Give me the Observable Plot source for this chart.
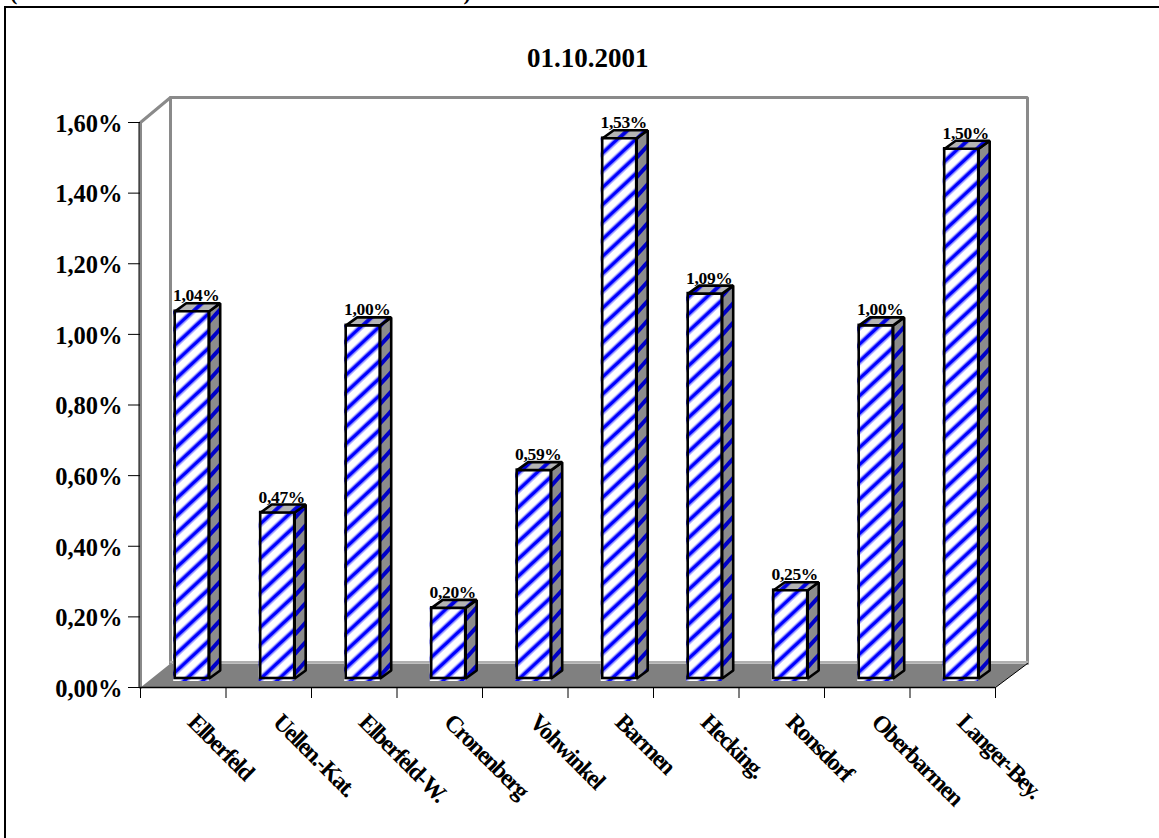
<!DOCTYPE html>
<html><head><meta charset="utf-8">
<script src="https://cdn.jsdelivr.net/npm/d3@7"></script>
<script src="https://cdn.jsdelivr.net/npm/@observablehq/plot@0.6"></script>
<style>
html,body{margin:0;padding:0;background:#fff;width:1159px;height:838px;overflow:hidden}
#cut{position:absolute;left:10px;top:-20px;white-space:nowrap;font:bold 22px "Liberation Serif",serif;letter-spacing:2px;color:#000}
#box{position:absolute;left:4px;top:5.5px;right:-5px;bottom:-5px;border:solid #000;border-width:2px 0 0 2px}
#chart{position:absolute;left:0;top:0}
svg{font-family:"Liberation Serif",serif}
.xlab{letter-spacing:-1.6px}
.vlab{letter-spacing:-.3px}
</style></head><body>
<div id="cut">(Basis laufende Fehlerstufe einer Klasse)</div>
<div id="box"></div>
<div id="chart"></div>
<script>
const categories=["Elberfeld","Uellen.-Kat.","Elberfeld-W.","Cronenberg","Vohwinkel","Barmen","Hecking.","Ronsdorf","Oberbarmen","Langer-Bey."];
const values=[1.04,0.47,1.00,0.20,0.59,1.53,1.09,0.25,1.00,1.50];
const yTicks=[0,0.2,0.4,0.6,0.8,1.0,1.2,1.4,1.6];
const title="01.10.2001";

const fmt=v=>v.toFixed(2).replace(".",",")+"%";
const W=1159,H=838,L=140,R=995,T=122,B=687;
const ux=(R-L)/10, uy=(B-T)/1.6;           // pixels per data unit
const px=p=>p/ux, py=p=>p/uy;              // pixel offsets expressed in data units
const base=py(9), x0=px(34.7), x1=px(68.7), dX=px(11), dY=py(8);

const rows=values.map((v,i)=>({i,v,name:categories[i]}));
const poly=(id,pts)=>pts.map(([x,y])=>({id,x,y}));
const sides=rows.flatMap(d=>poly(d.i,[
  [d.i+x1,base],[d.i+x1+dX,base+dY],[d.i+x1+dX,d.v+base+dY],[d.i+x1,d.v+base]]));
const tops=rows.flatMap(d=>poly(d.i,[
  [d.i+x0,d.v+base],[d.i+x1,d.v+base],[d.i+x1+dX,d.v+base+dY],[d.i+x0+dX,d.v+base+dY]]));

const backY=py(24), wallX=px(30), wallX2=10+px(32), topY=1.6+py(25);
const floor=poly(0,[[0,0],[wallX,backY],[wallX2,backY],[10,0]]);
const wall=poly(0,[[0,0],[0,1.6],[wallX,topY],[wallX2,topY],[wallX2,backY]]);
const wallInner=poly(0,[[wallX,topY],[wallX,backY]]);
const floorBack=poly(0,[[wallX,backY+py(1.5)],[wallX2,backY+py(1.5)]]);
const floorEdge=poly(0,[[10,0],[wallX2,backY]]);

const defs=()=>{
  const g=d3.create("svg:defs");
  g.html(`
  <pattern id="front" patternUnits="userSpaceOnUse" width="12.6" height="12.6" patternTransform="rotate(-43)">
    <rect width="12.6" height="12.6" fill="#fff"/><rect y="3.6" width="12.6" height="1" fill="#8080ff"/><rect y="4.6" width="12.6" height="3.6" fill="#0000ff"/><rect y="8.2" width="12.6" height="1" fill="#8080ff"/></pattern>
  <pattern id="side" patternUnits="userSpaceOnUse" width="13" height="13" patternTransform="rotate(-48)">
    <rect width="13" height="13" fill="#8c8c8c"/><rect y="4" width="13" height="4" fill="#0000c8"/></pattern>
  <pattern id="top" patternUnits="userSpaceOnUse" width="12.6" height="12.6" patternTransform="rotate(-43)">
    <rect width="12.6" height="12.6" fill="#b4b4b4"/><rect y="4" width="12.6" height="4" fill="#0000e0"/></pattern>`);
  return g.node();
};

const chart=Plot.plot({
  width:W,height:H,marginLeft:L,marginRight:W-R,marginTop:T,marginBottom:H-B,
  style:{background:"transparent",fontFamily:'"Liberation Serif",serif',overflow:"visible"},
  x:{domain:[0,10]},y:{domain:[0,1.6]},
  marks:[
    defs,
    Plot.line(floor,{x:"x",y:"y",z:"id",fill:"#808080",stroke:"none",curve:"linear-closed"}),
    Plot.line(wall,{x:"x",y:"y",z:"id",stroke:"#8a8a8a",strokeWidth:3,strokeLinejoin:"miter"}),
    Plot.line(wallInner,{x:"x",y:"y",z:"id",stroke:"#8a8a8a",strokeWidth:3}),
    Plot.line(floorBack,{x:"x",y:"y",z:"id",stroke:"#b0b0b0",strokeWidth:2}),
    Plot.line(floorEdge,{x:"x",y:"y",z:"id",stroke:"#000",strokeWidth:1}),
    Plot.axisY({ticks:yTicks,tickFormat:()=>"",tickSize:12,label:null,stroke:"#000"}),
    Plot.axisY({ticks:yTicks,tickFormat:fmt,tickSize:0,tickPadding:18,dy:1.5,fontSize:24.5,fontWeight:"bold",label:null,fill:"#000"}),
    Plot.ruleY([0],{stroke:"#000",strokeWidth:1.5}),
    Plot.ruleX([0],{y1:0,y2:1.6,stroke:"#000",strokeWidth:1,dx:-1.5}),
    Plot.axisX({ticks:d3.range(0,11),tickFormat:()=>"",tickSize:11,label:null,stroke:"#000"}),
    Plot.text(rows,{x:d=>d.i+0.5,y:d=>d.v+base+dY,text:d=>fmt(d.v),fontSize:17.5,fontWeight:"bold",fill:"#000",dx:13,dy:-2,textAnchor:"middle",lineAnchor:"bottom",className:"vlab"}),
    Plot.rect(rows,{x1:d=>d.i+x0-px(1.5),x2:d=>d.i+x1,y1:base-py(3),y2:d=>d.v+base,fill:"url(#front)"}),
    Plot.rect(rows,{x1:d=>d.i+x0,x2:d=>d.i+x1,y1:base,y2:d=>d.v+base,fill:"url(#front)",stroke:"#000",strokeWidth:2.6}),
    Plot.line(sides,{x:"x",y:"y",z:"id",fill:"url(#side)",stroke:"#000",strokeWidth:2.6,strokeLinejoin:"miter",curve:"linear-closed"}),
    Plot.line(tops,{x:"x",y:"y",z:"id",fill:"url(#top)",stroke:"#000",strokeWidth:2.6,strokeLinejoin:"miter",curve:"linear-closed"}),
    Plot.text(rows,{x:d=>d.i+0.5,y:0,text:"name",rotate:45,textAnchor:"start",lineAnchor:"bottom",fontSize:24,fontWeight:"bold",fill:"#000",dx:3,dy:36,className:"xlab"}),
    Plot.text([title],{x:5.23,y:1.6,text:d=>d,fontSize:27,fontWeight:"bold",fill:"#000",dy:-64,textAnchor:"middle",className:"ttl"})
  ]
});
document.getElementById("chart").append(chart);
</script></body></html>
